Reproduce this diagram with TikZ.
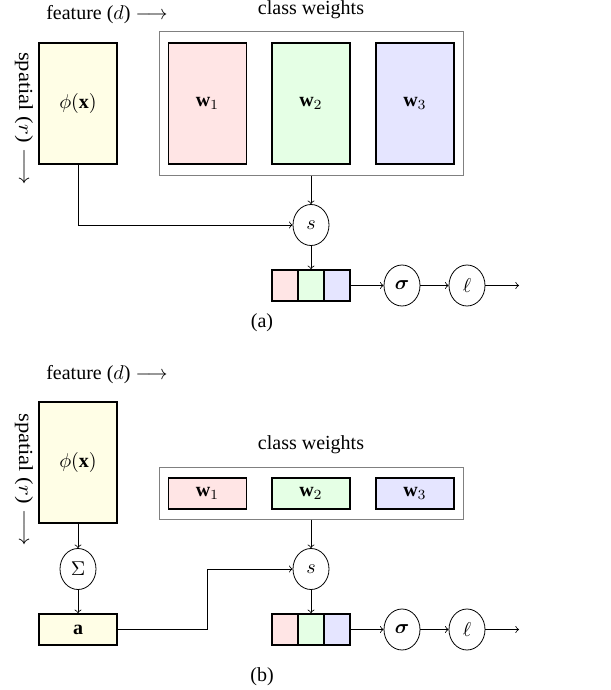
\documentclass[tikz,border=0pt]{standalone}
\usepackage{amsmath}
\usepackage{bm}
\usepackage{fontspec}
\setmainfont{Liberation Serif}
\usetikzlibrary{shapes.geometric}
\tikzset{
  blk/.style={draw=black, line width=0.8pt, inner sep=0pt},
  grp/.style={draw=gray, line width=0.5pt, inner sep=0pt},
  op/.style={draw=black, line width=0.4pt, ellipse, inner sep=0pt, minimum width=18pt, minimum height=20.5pt},
  conn/.style={->, line width=0.4pt},
  lbl/.style={inner sep=0pt, font=\normalsize},
}
\begin{document}
\begin{tikzpicture}[x=0.5pt,y=-0.5pt]
\useasboundingbox (0,0) rectangle (610,690);
% ---------------- (a) ----------------
\node[lbl] (featA) at (107,15) {feature ($d$) $\longrightarrow$};
\node[lbl, rotate=-90] (spatA) at (24,118.5) {\scalebox{1.13}[1]{spatial ($r$) $\longrightarrow$}};
\node[lbl] (cwtA) at (311,10) {class weights};
\node[grp, minimum width=152pt, minimum height=71.5pt] (cwA) at (311,103.5) {};
\node[blk, fill=yellow!10, minimum width=39pt, minimum height=60.5pt] (phiA) at (78,103.5) {$\phi(\mathbf{x})$};
\node[blk, fill=red!10, minimum width=39pt, minimum height=60.5pt] (w1A) at (207.5,103.5) {$\mathbf{w}_1$};
\node[blk, fill=green!10, minimum width=39pt, minimum height=60.5pt] (w2A) at (311,103.5) {$\mathbf{w}_2$};
\node[blk, fill=blue!10, minimum width=39pt, minimum height=60.5pt] (w3A) at (415,103.5) {$\mathbf{w}_3$};
\node[op] (sA) at (311,225) {$s$};
\node[blk, fill=red!10, minimum width=13pt, minimum height=15.5pt] (o1A) at (285,285.5) {};
\node[blk, fill=green!10, minimum width=13pt, minimum height=15.5pt] (o2A) at (311,285.5) {};
\node[blk, fill=blue!10, minimum width=13pt, minimum height=15.5pt] (o3A) at (337,285.5) {};
\node[op] (sigA) at (402,285.5) {$\bm{\sigma}$};
\node[op] (ellA) at (467,285.5) {$\ell$};
\coordinate (endA) at (519,285.5);
\draw[conn] (cwA.south) -- (sA.north);
\draw[conn] (phiA.south) |- (sA.west);
\draw[conn] (sA.south) -- (o2A.north);
\draw[conn] (o3A.east) -- (sigA.west);
\draw[conn] (sigA.east) -- (ellA.west);
\draw[conn] (ellA.east) -- (endA);
\node[lbl] (capA) at (262,323) {(a)};
% ---------------- (b) ----------------
\node[lbl] (featB) at (107,375) {feature ($d$) $\longrightarrow$};
\node[lbl, rotate=-90] (spatB) at (24,479.5) {\scalebox{1.13}[1]{spatial ($r$) $\longrightarrow$}};
\node[lbl] (cwtB) at (311,445) {class weights};
\node[grp, minimum width=152pt, minimum height=26pt] (cwB) at (311,493) {};
\node[blk, fill=yellow!10, minimum width=39pt, minimum height=60.5pt] (phiB) at (78,462.5) {$\phi(\mathbf{x})$};
\node[blk, fill=red!10, minimum width=39pt, minimum height=15.5pt] (w1B) at (207.5,493.5) {$\mathbf{w}_1$};
\node[blk, fill=green!10, minimum width=39pt, minimum height=15.5pt] (w2B) at (311,493.5) {$\mathbf{w}_2$};
\node[blk, fill=blue!10, minimum width=39pt, minimum height=15.5pt] (w3B) at (415,493.5) {$\mathbf{w}_3$};
\node[op] (sumB) at (78,569) {$\Sigma$};
\node[blk, fill=yellow!10, minimum width=39pt, minimum height=15.5pt] (aB) at (78,629.5) {$\mathbf{a}$};
\node[op] (sB) at (311,569) {$s$};
\node[blk, fill=red!10, minimum width=13pt, minimum height=15.5pt] (o1B) at (285,629.5) {};
\node[blk, fill=green!10, minimum width=13pt, minimum height=15.5pt] (o2B) at (311,629.5) {};
\node[blk, fill=blue!10, minimum width=13pt, minimum height=15.5pt] (o3B) at (337,629.5) {};
\node[op] (sigB) at (402,629.5) {$\bm{\sigma}$};
\node[op] (ellB) at (467,629.5) {$\ell$};
\coordinate (endB) at (519,629.5);
\coordinate (bendB) at (207,629.5);
\draw[conn] (phiB.south) -- (sumB.north);
\draw[conn] (sumB.south) -- (aB.north);
\draw[conn] (cwB.south) -- (sB.north);
\draw[conn] (aB.east) -- (bendB) |- (sB.west);
\draw[conn] (sB.south) -- (o2B.north);
\draw[conn] (o3B.east) -- (sigB.west);
\draw[conn] (sigB.east) -- (ellB.west);
\draw[conn] (ellB.east) -- (endB);
\node[lbl] (capB) at (262,677) {(b)};
\end{tikzpicture}
\end{document}
